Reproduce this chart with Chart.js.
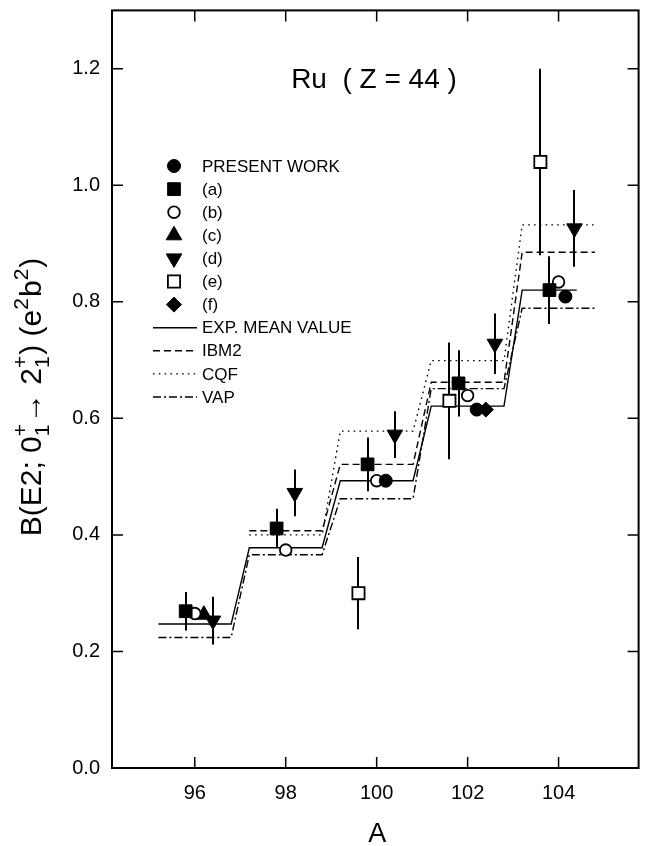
<!DOCTYPE html>
<html><head><meta charset="utf-8">
<script src="https://cdn.jsdelivr.net/npm/chart.js@4/dist/chart.umd.min.js"></script>
<style>html,body{margin:0;padding:0;background:#fff}#wrap{width:649px;height:846px}</style>
</head><body><div id="wrap"><canvas id="c" width="649" height="846"></canvas></div>
<script>
// ---------- data ----------
const isotopes = [96, 98, 100, 102, 104];
const xTicks = [96, 98, 100, 102, 104];
const yTicks = [0, 0.2, 0.4, 0.6, 0.8, 1.0, 1.2];

// step-line model / mean values per isotope (null = not shown)
const expMean = [0.247, 0.378, 0.493, 0.621, 0.820];
const ibm2    = [null, 0.407, 0.521, 0.662, 0.885];
const cqf     = [null, 0.400, 0.578, 0.699, 0.932];
const vap     = [0.224, 0.366, 0.462, 0.651, 0.789];

// measured points (A position, B(E2), error)
const presentA = [100.2, 102.2, 104.15];
const presentB = [0.493, 0.615, 0.809];
const refaA = [95.8, 97.8, 99.8, 101.8, 103.8];
const refaB = [0.269, 0.411, 0.521, 0.660, 0.820];
const refaErr = [0.033, 0.034, 0.046, 0.057, 0.058];
const refbA = [96.0, 98.0, 100.0, 102.0, 104.0];
const refbB = [0.265, 0.374, 0.493, 0.639, 0.834];
const refcA = [96.2];
const refcB = [0.263];
const refdA = [96.4, 98.2, 100.4, 102.6, 104.35];
const refdB = [0.253, 0.472, 0.572, 0.728, 0.926];
const refdErr = [0.041, 0.040, 0.040, 0.052, 0.066];
const refeA = [99.6, 101.6, 103.6];
const refeB = [0.300, 0.630, 1.040];
const refeErr = [0.062, 0.100, 0.160];
const reffA = [102.4];
const reffB = [0.615];

const STEP_HALF = 0.8;
const EXP_END = 104.4;

// ---------- build ----------
const zip = (xs, ys) => xs.map((x, i) => ({x, y: ys[i]}));
function stepPoints(levels, endA) {
  const pts = [];
  levels.forEach((v, i) => {
    if (v === null) return;
    const A = isotopes[i];
    pts.push({x: A - STEP_HALF, y: v});
    const last = i === levels.length - 1;
    pts.push({x: (last && endA) ? endA : A + STEP_HALF, y: v});
  });
  return pts;
}
function pointSet(label, xs, ys, errs, style, r, filled, rot) {
  return {
    label, data: zip(xs, ys), errs: errs || null, showLine: false,
    pointStyle: style, pointRadius: r, pointHoverRadius: r, pointRotation: rot || 0,
    pointBackgroundColor: filled ? '#000' : '#fff', pointBorderColor: '#000',
    pointBorderWidth: filled ? 1 : 1.8, backgroundColor: filled ? '#000' : '#fff',
    borderColor: '#000', kind: 'point'
  };
}
function lineSet(label, pts, dash) {
  return {
    label, data: pts, showLine: true, borderColor: '#000', borderWidth: 1.4,
    borderDash: dash, pointRadius: 0, fill: false, tension: 0, kind: 'line'
  };
}

const datasets = [
  pointSet('PRESENT WORK', presentA, presentB, null, 'circle', 6.5, true),
  pointSet('(a)', refaA, refaB, refaErr, 'rect', 9, true),
  pointSet('(b)', refbA, refbB, null, 'circle', 5.8, false),
  pointSet('(c)', refcA, refcB, null, 'triangle', 9, true),
  pointSet('(d)', refdA, refdB, refdErr, 'triangle', 9, true, 180),
  pointSet('(e)', refeA, refeB, refeErr, 'rect', 8.6, false),
  pointSet('(f)', reffA, reffB, null, 'rectRot', 7.5, true),
  lineSet('EXP. MEAN VALUE', stepPoints(expMean, EXP_END), []),
  lineSet('IBM2', stepPoints(ibm2), [7, 4]),
  lineSet('CQF', stepPoints(cqf), [1.6, 4.2]),
  lineSet('VAP', stepPoints(vap), [8, 3, 2, 3])
];

const FONT = '"Liberation Sans", Arial, Helvetica, sans-serif';

function drawMarker(ctx, ds, x, y) {
  ctx.save();
  ctx.fillStyle = ds.pointBackgroundColor;
  ctx.strokeStyle = ds.pointBorderColor;
  ctx.lineWidth = ds.pointBorderWidth;
  Chart.helpers.drawPoint(ctx, {
    pointStyle: ds.pointStyle, radius: ds.pointRadius,
    rotation: ds.pointRotation, borderWidth: ds.pointBorderWidth
  }, x, y);
  ctx.restore();
}

function drawYTitle(ctx, baseX, centerY) {
  const F = 30, S = 21;
  const parts = [
    {t: 'B(E2; 0'}, {sub: '1', sup: '+'}, {t: '\u2192 2'}, {sub: '1', sup: '+'},
    {t: ') (e'}, {up: '2'}, {t: 'b'}, {up: '2'}, {t: ')'}
  ];
  const big = F + 'px ' + FONT, small = S + 'px ' + FONT;
  let total = 0;
  const widths = parts.map(p => {
    let w;
    if (p.t) { ctx.font = big; w = ctx.measureText(p.t).width; }
    else if (p.up) { ctx.font = small; w = ctx.measureText(p.up).width + 1; }
    else { ctx.font = small; w = Math.max(ctx.measureText(p.sub).width, ctx.measureText(p.sup).width) + 1; }
    total += w; return w;
  });
  ctx.save();
  ctx.translate(baseX, centerY);
  ctx.rotate(-Math.PI / 2);
  ctx.fillStyle = '#000';
  ctx.textBaseline = 'alphabetic';
  ctx.textAlign = 'left';
  let x = -total / 2;
  parts.forEach((p, i) => {
    if (p.t) { ctx.font = big; ctx.fillText(p.t, x, 0); }
    else if (p.up) { ctx.font = small; ctx.fillText(p.up, x, -F * 0.42); }
    else {
      ctx.font = small;
      ctx.fillText(p.sub, x, F * 0.28);
      ctx.fillText(p.sup, x, -F * 0.47);
    }
    x += widths[i];
  });
  ctx.restore();
}

const decor = {
  id: 'decor',
  beforeDatasetsDraw(chart) {
    const ctx = chart.ctx, xs = chart.scales.x, ys = chart.scales.y;
    ctx.save();
    ctx.strokeStyle = '#000';
    ctx.lineWidth = 2;
    chart.data.datasets.forEach(ds => {
      if (!ds.errs) return;
      ds.data.forEach((p, i) => {
        const e = ds.errs[i];
        const px = Math.round(xs.getPixelForValue(p.x));
        ctx.beginPath();
        ctx.moveTo(px, ys.getPixelForValue(p.y - e));
        ctx.lineTo(px, ys.getPixelForValue(p.y + e));
        ctx.stroke();
      });
    });
    ctx.restore();
  },
  afterDraw(chart) {
    const ctx = chart.ctx, a = chart.chartArea, xs = chart.scales.x, ys = chart.scales.y;
    ctx.save();
    // frame
    ctx.strokeStyle = '#000';
    ctx.lineWidth = 2;
    ctx.strokeRect(a.left, a.top, a.right - a.left, a.bottom - a.top);
    // inward ticks on all sides
    const TL = 11;
    ctx.lineWidth = 1.5;
    ctx.beginPath();
    xs.ticks.forEach(t => {
      const px = xs.getPixelForValue(t.value);
      ctx.moveTo(px, a.bottom); ctx.lineTo(px, a.bottom - TL);
      ctx.moveTo(px, a.top); ctx.lineTo(px, a.top + TL);
    });
    ys.ticks.forEach(t => {
      const py = ys.getPixelForValue(t.value);
      ctx.moveTo(a.left, py); ctx.lineTo(a.left + TL, py);
      ctx.moveTo(a.right, py); ctx.lineTo(a.right - TL, py);
    });
    ctx.stroke();

    // texts
    ctx.fillStyle = '#000';
    ctx.textAlign = 'center';
    ctx.textBaseline = 'alphabetic';
    ctx.font = '28px ' + FONT;
    ctx.fillText('Ru  ( Z = 44 )', 374, 88);
    ctx.font = '27px ' + FONT;
    ctx.fillText('A', (a.left + a.right) / 2 + 2, 842);
    drawYTitle(ctx, 41, 397);

    // legend
    const rowY0 = 166, rowDY = 23.1, mx = 174, tx = 202, lx0 = 153, lx1 = 197;
    ctx.font = '17px ' + FONT;
    ctx.textAlign = 'left';
    ctx.textBaseline = 'middle';
    chart.data.datasets.forEach((ds, i) => {
      const y = rowY0 + i * rowDY;
      if (ds.kind === 'point') {
        drawMarker(ctx, ds, mx, y);
      } else {
        ctx.save();
        ctx.strokeStyle = '#000';
        ctx.lineWidth = ds.borderWidth;
        ctx.setLineDash(ds.borderDash);
        ctx.beginPath();
        ctx.moveTo(lx0, y); ctx.lineTo(lx1, y);
        ctx.stroke();
        ctx.restore();
      }
      ctx.fillStyle = '#000';
      ctx.fillText(ds.label, tx, y + 1);
    });
    ctx.restore();
  }
};

new Chart(document.getElementById('c'), {
  type: 'scatter',
  data: {datasets},
  options: {
    responsive: false, animation: false, devicePixelRatio: 1,
    events: [],
    layout: {padding: {top: 7, right: 5, left: 0, bottom: 0}},
    plugins: {legend: {display: false}, tooltip: {enabled: false}, title: {display: false}},
    scales: {
      x: {
        type: 'linear', min: 94.18, max: 105.76,
        grid: {display: false, drawTicks: false}, border: {display: false},
        afterBuildTicks: s => { s.ticks = xTicks.map(v => ({value: v})); },
        afterFit: s => { s.height = 78; s.paddingLeft = 0; s.paddingRight = 0; },
        ticks: {color: '#000', font: {family: FONT, size: 20}, padding: 13, maxRotation: 0,
                callback: v => String(v)}
      },
      y: {
        type: 'linear', min: 0, max: 1.3,
        grid: {display: false, drawTicks: false}, border: {display: false},
        afterBuildTicks: s => { s.ticks = yTicks.map(v => ({value: v})); },
        afterFit: s => { s.width = 112; s.paddingTop = 0; s.paddingBottom = 0; },
        ticks: {color: '#000', font: {family: FONT, size: 20}, padding: 12,
                callback: v => Number(v).toFixed(1)}
      }
    }
  },
  plugins: [decor]
});
</script>
</body></html>
